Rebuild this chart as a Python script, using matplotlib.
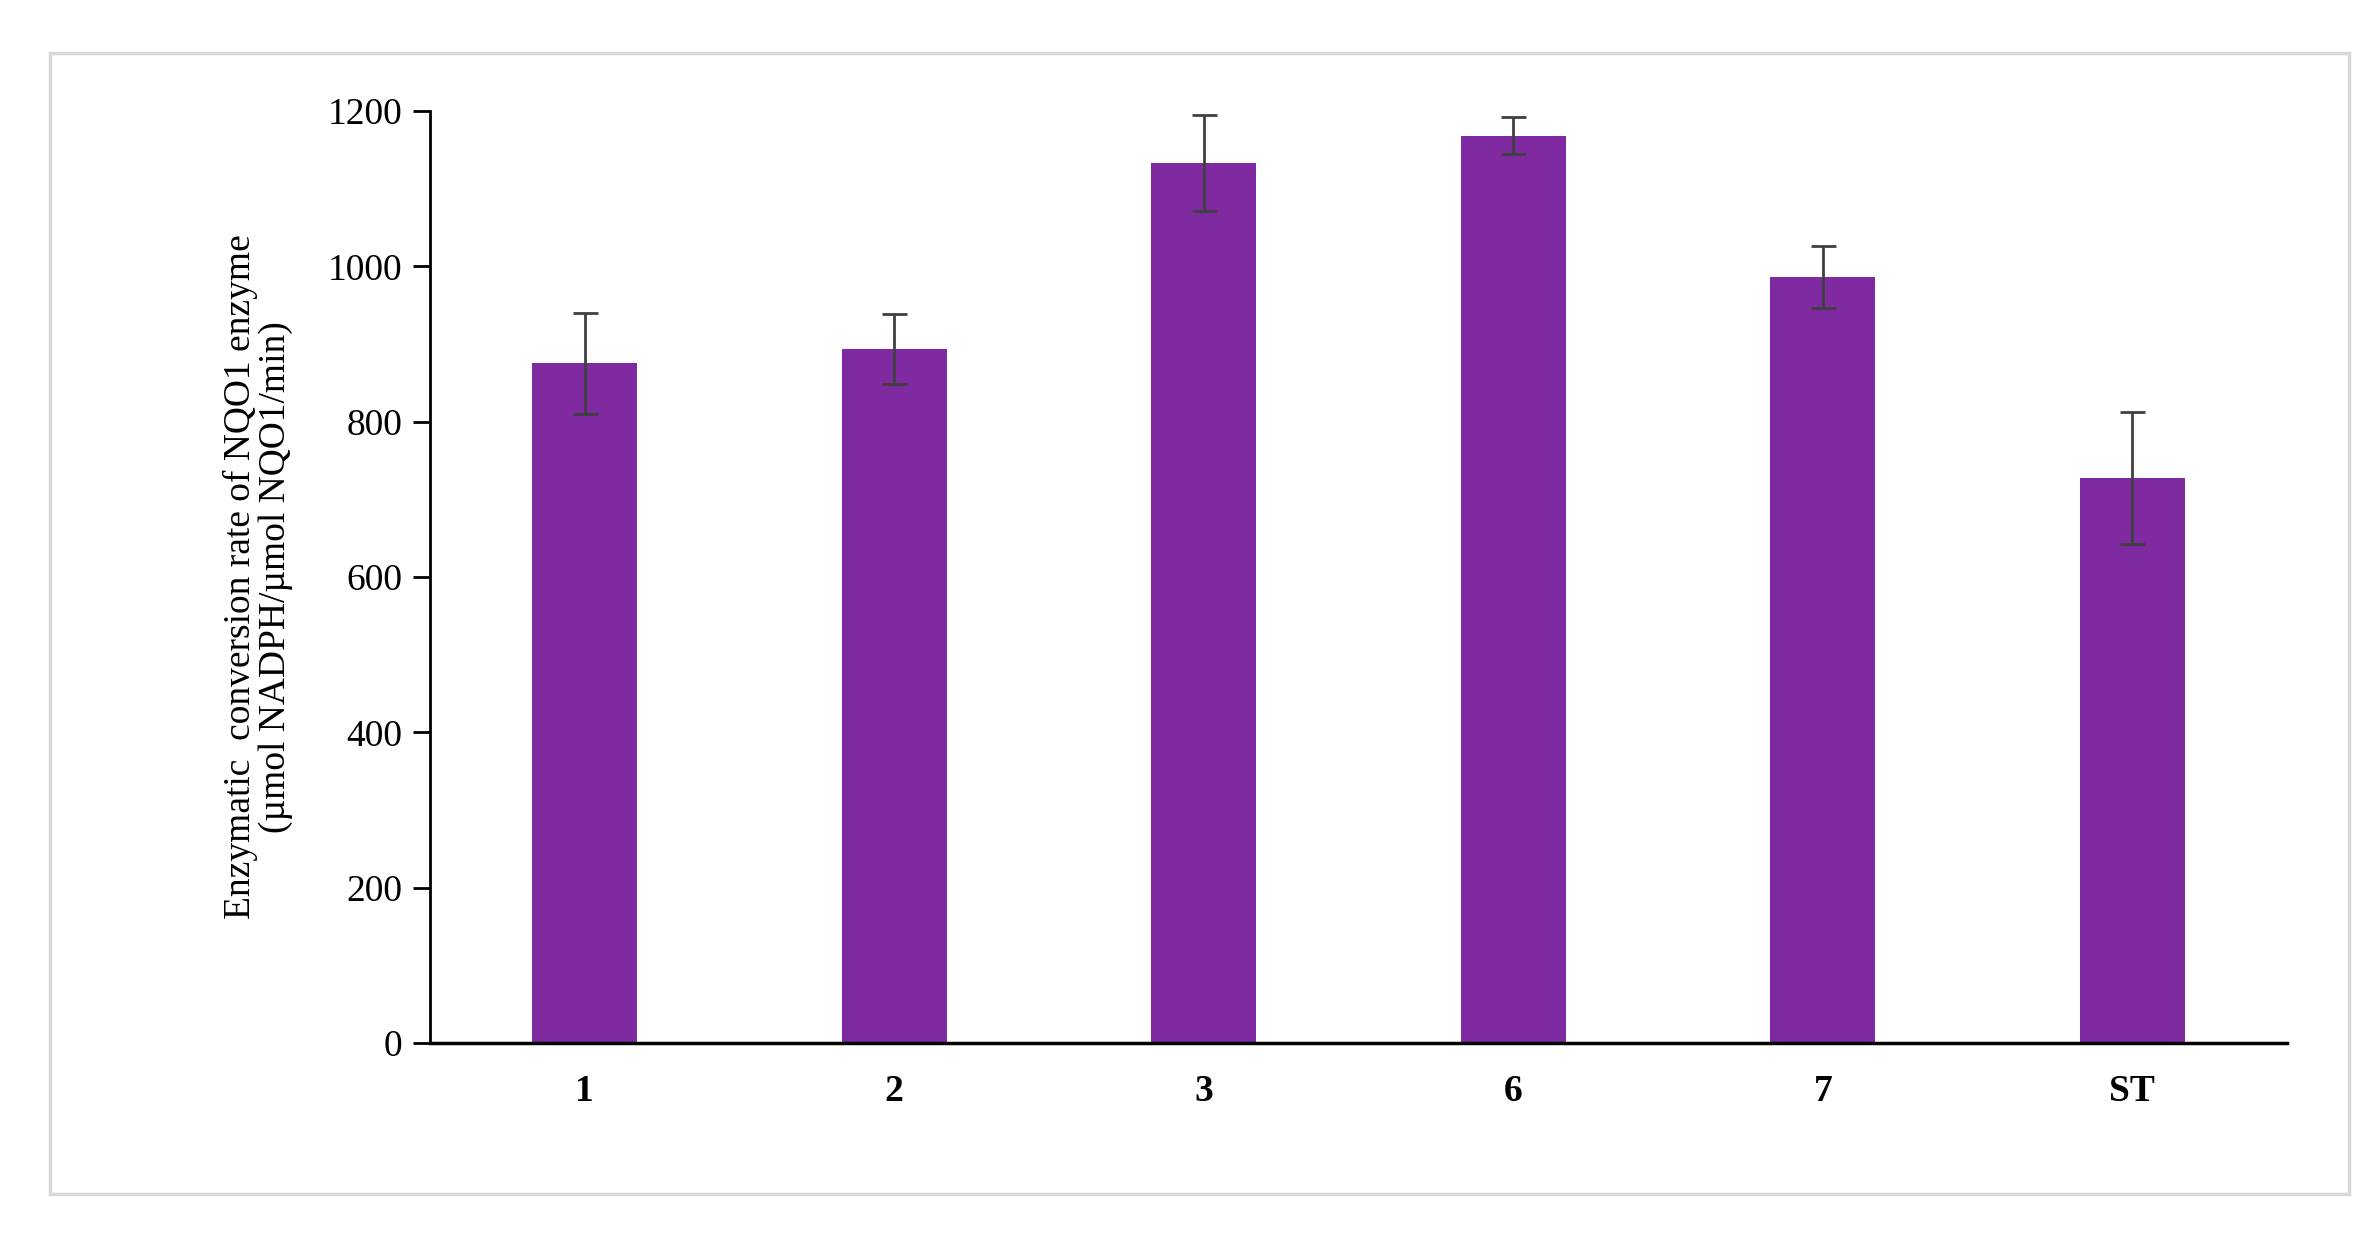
import matplotlib.pyplot as plt
from matplotlib.patches import Rectangle

labels = ["1", "2", "3", "6", "7", "ST"]
rates = [875, 894, 1133, 1168, 986, 728]
errors = [65, 45, 62, 24, 40, 85]

plt.rcParams['font.family'] = ['Liberation Serif', 'DejaVu Serif']

fig = plt.figure(figsize=(23.75, 12.33), dpi=100)
fig.patches.append(Rectangle((0.021, 0.032), 0.968, 0.925, transform=fig.transFigure,
                             fill=False, edgecolor='#d9d9d9', linewidth=2.5))
ax = fig.add_axes([0.181, 0.154, 0.782, 0.756])

x = range(len(labels))
ax.bar(x, rates, width=0.34, color='#7f2aa0', zorder=2)
ax.errorbar(x, rates, yerr=errors, fmt='none', ecolor='#404040', elinewidth=2,
            capsize=9, capthick=2, zorder=3)

ax.set_ylim(0, 1200)
ax.set_yticks(range(0, 1201, 200))
ax.set_xlim(-0.5, len(labels) - 0.5)
ax.set_xticks(list(x))
ax.set_xticklabels(labels, fontweight='bold', fontsize=27)
ax.tick_params(axis='y', labelsize=27, length=12, width=2, direction='out', pad=8)
ax.tick_params(axis='x', length=0, pad=22)
for s in ['top', 'right']:
    ax.spines[s].set_visible(False)
ax.spines['left'].set_linewidth(2)
ax.spines['bottom'].set_linewidth(2.5)

ax.set_ylabel("Enzymatic  conversion rate of NQO1 enzyme\n(µmol NADPH/µmol NQO1/min)",
              fontsize=27, labelpad=25, linespacing=1.0)

fig.savefig("out.png", dpi=100)
